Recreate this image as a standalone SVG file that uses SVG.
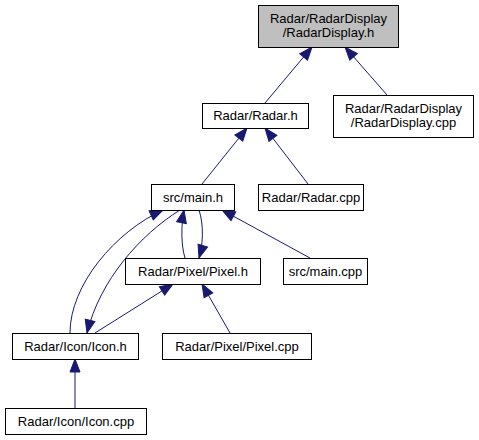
<svg xmlns="http://www.w3.org/2000/svg" width="479" height="440" viewBox="0 0 479 440">
<style>
.n rect{fill:#ffffff;stroke:#000000;stroke-width:1}
.n.root rect{fill:#bfbfbf}
.n text{font-family:"Liberation Sans",Arial,sans-serif;font-size:13px;fill:#000000;text-anchor:middle}
.e path{fill:none;stroke:#191970;stroke-width:1;marker-end:url(#ah)}
</style>
<defs>
<marker id="ah" markerUnits="userSpaceOnUse" markerWidth="14" markerHeight="12" refX="13" refY="5" orient="auto" viewBox="0 0 14 10" overflow="visible">
<path d="M0,0 L13,5 L0,10 Z" fill="#191970" stroke="#191970" stroke-width="1"/>
</marker>
</defs>
<rect width="479" height="440" fill="#ffffff"/>
<g id="edges" class="e">
<path d="M265,103 L312,47"/>
<path d="M387,95 L345,47"/>
<path d="M202,184 L247,128"/>
<path d="M308,184 L265,128"/>
<path d="M310,258 L222,210"/>
<path d="M185,258 C181,245 181,225 184,210"/>
<path d="M199,210 C204,225 203,245 199,258"/>
<path d="M70,333 C70,285 115,232 163,210"/>
<path d="M180,210 C140,235 100,280 87,333"/>
<path d="M95,333 L173,284"/>
<path d="M230,333 L202,284"/>
<path d="M75,408 L75,359"/>
</g>
<g id="node-radardisplay-h" class="n root"><rect x="258.5" y="5.5" width="140" height="42"/><text x="328.5" y="23">Radar/RadarDisplay</text><text x="328.5" y="37">/RadarDisplay.h</text></g>
<g id="node-radar-h" class="n"><rect x="202.5" y="103.5" width="106" height="25"/><text x="255.5" y="120">Radar/Radar.h</text></g>
<g id="node-radardisplay-cpp" class="n"><rect x="333.5" y="95.5" width="140" height="42"/><text x="403.5" y="113">Radar/RadarDisplay</text><text x="403.5" y="127">/RadarDisplay.cpp</text></g>
<g id="node-main-h" class="n"><rect x="151.5" y="184.5" width="83" height="26"/><text x="193" y="202">src/main.h</text></g>
<g id="node-radar-cpp" class="n"><rect x="258.5" y="184.5" width="105" height="26"/><text x="311" y="202">Radar/Radar.cpp</text></g>
<g id="node-pixel-h" class="n"><rect x="125.5" y="258.5" width="135" height="26"/><text x="193" y="276">Radar/Pixel/Pixel.h</text></g>
<g id="node-main-cpp" class="n"><rect x="283.5" y="258.5" width="84" height="26"/><text x="325.5" y="276">src/main.cpp</text></g>
<g id="node-icon-h" class="n"><rect x="12.5" y="333.5" width="126" height="26"/><text x="75.5" y="351">Radar/Icon/Icon.h</text></g>
<g id="node-pixel-cpp" class="n"><rect x="162.5" y="333.5" width="149" height="26"/><text x="237" y="351">Radar/Pixel/Pixel.cpp</text></g>
<g id="node-icon-cpp" class="n"><rect x="5.5" y="408.5" width="141" height="26"/><text x="76" y="426">Radar/Icon/Icon.cpp</text></g>
</svg>
